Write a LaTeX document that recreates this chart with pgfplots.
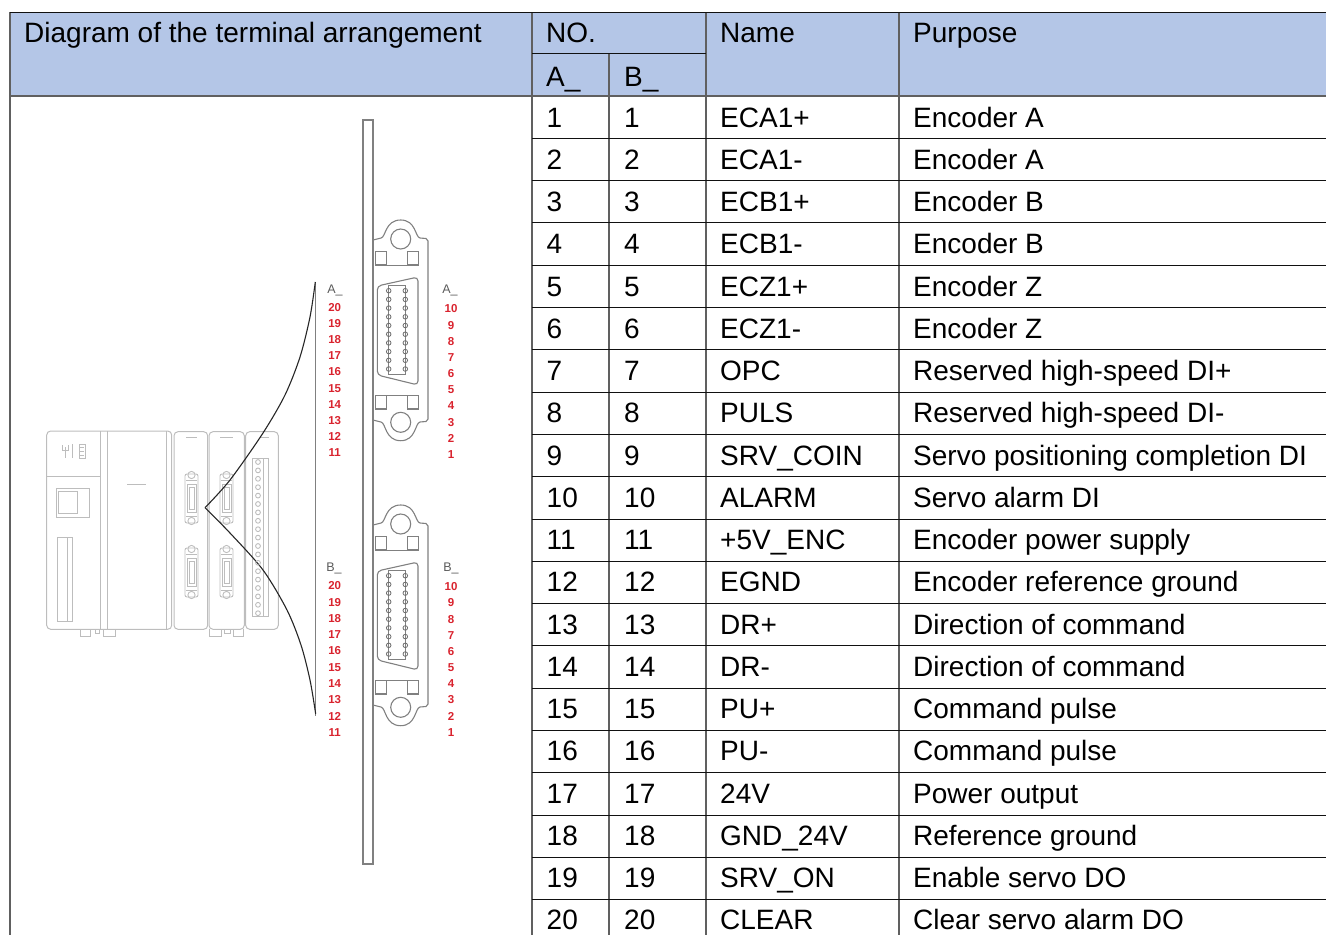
\documentclass[border=0pt]{standalone}
\usepackage{pgfplots}
\pgfplotsset{compat=1.18}
\usepackage{fontspec}
\setmainfont{Liberation Sans}
\definecolor{hdr}{HTML}{B4C6E7}
\definecolor{ln}{HTML}{111111}
\definecolor{vl}{HTML}{606060}
\definecolor{dev}{HTML}{BDBDBD}
\definecolor{conn}{HTML}{808080}
\definecolor{pinred}{HTML}{D9232E}
\newcommand{\tx}[3]{\node[anchor=base west,inner sep=0pt,text=black,font=\fontsize{28}{28}\selectfont] at (axis cs:#1,#2) {#3};}
\newcommand{\row}[4]{\tx{546.5}{#1}{#2}\tx{624}{#1}{#2}\tx{720}{#1}{#3}\tx{913}{#1}{#4}}
\newcommand{\rl}[1]{\draw[ln,line width=1pt] (axis cs:532,#1) -- (axis cs:1326,#1);}
\newcommand{\pinlab}[3]{\node[anchor=center,inner sep=0pt,text=pinred,font=\fontsize{11.5}{12}\selectfont\bfseries] at (axis cs:#1,#2) {#3};}
\newcommand{\glab}[3]{\node[anchor=center,inner sep=0pt,text=conn!70!black,font=\fontsize{12.5}{13}\selectfont] at (axis cs:#1,#2) {#3};}
\newcommand{\connector}[1]{%
\begin{scope}[yshift=-#1pt,conn,line width=1.1pt]
\draw (axis cs:373,240) -- (axis cs:381,238) .. controls (axis cs:386,237) and (axis cs:385,220) .. (axis cs:400.7,220) .. controls (axis cs:416,220) and (axis cs:415,237) .. (axis cs:420,238) -- (axis cs:426,238.5) -- (axis cs:428,241) -- (axis cs:428,419) -- (axis cs:426,421.5) -- (axis cs:420,422) .. controls (axis cs:415,423) and (axis cs:416,440.7) .. (axis cs:400.7,440.7) .. controls (axis cs:385,440.7) and (axis cs:386,423) .. (axis cs:381,422) -- (axis cs:373,420);
\draw (axis cs:400.7,239) circle[radius=10];
\draw (axis cs:400.7,422.3) circle[radius=10];
\draw (axis cs:375.7,251.7) rectangle (axis cs:386.7,265);
\draw (axis cs:407.3,251.7) rectangle (axis cs:418.3,265);
\draw (axis cs:375.7,395.7) rectangle (axis cs:386.7,409);
\draw (axis cs:407.3,395.7) rectangle (axis cs:418.3,409);
\draw (axis cs:386.7,265.5) -- (axis cs:407.3,265.5);
\draw (axis cs:386.7,395.5) -- (axis cs:407.3,395.5);
\draw[rounded corners=4pt] (axis cs:418,277) -- (axis cs:377.3,286) -- (axis cs:377.3,375) -- (axis cs:418,385) -- cycle;
\draw (axis cs:388.7,285.5) rectangle (axis cs:405.3,374.7);
\end{scope}}
\newcommand{\mini}[2]{%
\begin{scope}[dev,line width=.9pt]
\draw[rounded corners=2pt] (axis cs:#1,#2+5) rectangle (axis cs:#1+13,#2+54);
\draw (axis cs:#1+6.5,#2+6) circle[radius=3.6];
\draw (axis cs:#1+6.5,#2+52) circle[radius=3.6];
\draw (axis cs:#1+2,#2+15) rectangle (axis cs:#1+11,#2+43);
\draw (axis cs:#1+4,#2+18) rectangle (axis cs:#1+9,#2+40);
\draw (axis cs:#1+1,#2+11) -- (axis cs:#1+12,#2+11);
\draw (axis cs:#1+1,#2+47) -- (axis cs:#1+12,#2+47);
\end{scope}}
\begin{document}
\begin{tikzpicture}
\begin{axis}[
  scale only axis, width=1326pt, height=935pt,
  xmin=0, xmax=1326, ymin=0, ymax=935, y dir=reverse,
  hide axis, clip=true]
\path (axis cs:0,0) rectangle (axis cs:1326,935);
% header
\fill[hdr] (axis cs:10,12) rectangle (axis cs:1326,96);
% left device
\begin{scope}[dev,line width=1pt]
\draw[rounded corners=4pt] (axis cs:46.7,431) rectangle (axis cs:171.7,629.3);
\draw (axis cs:100.7,431) -- (axis cs:100.7,629.3);
\draw (axis cs:107.3,431) -- (axis cs:107.3,629.3);
\draw (axis cs:166,431) -- (axis cs:166,629.3);
\draw (axis cs:46.7,476) -- (axis cs:100.7,476);
\draw (axis cs:56.7,488.3) rectangle (axis cs:89,517.3);
\draw (axis cs:58.5,491.7) -- (axis cs:77,491.7) -- (axis cs:77,513.3) -- (axis cs:58.5,513.3) -- cycle;
\draw (axis cs:127.3,484.3) -- (axis cs:145.7,484.3);
\draw (axis cs:57.3,537.3) rectangle (axis cs:72,621.3);
\draw (axis cs:67.5,537.3) -- (axis cs:67.5,621.3);
\draw[rounded corners=4pt] (axis cs:174,431.7) rectangle (axis cs:207.7,629.3);
\draw[rounded corners=4pt] (axis cs:209,431.7) rectangle (axis cs:244.3,629.3);
\draw[rounded corners=4pt] (axis cs:245.7,431.7) rectangle (axis cs:278.3,629.3);
\draw[line width=1.4pt] (axis cs:186,437.3) -- (axis cs:197,437.3);
\draw[line width=1.4pt] (axis cs:220,437.3) -- (axis cs:233,437.3);
\draw[line width=1.4pt] (axis cs:260,437.3) -- (axis cs:269,437.3);
\draw (axis cs:252.7,458.3) rectangle (axis cs:268.3,616.7);
\draw (axis cs:263,458.3) -- (axis cs:263,616.7);
\draw (axis cs:80,629.3) -- (axis cs:80,636) -- (axis cs:90,636) -- (axis cs:90,629.3);
\draw (axis cs:103,629.3) -- (axis cs:103,636) -- (axis cs:115,636) -- (axis cs:115,629.3);
\draw (axis cs:209,629.3) -- (axis cs:209,636) -- (axis cs:221,636) -- (axis cs:221,629.3);
\draw (axis cs:233,629.3) -- (axis cs:233,636) -- (axis cs:243,636) -- (axis cs:243,629.3);
\draw (axis cs:95,629.3) -- (axis cs:95,633) -- (axis cs:99,633) -- (axis cs:99,629.3);
\draw (axis cs:224,629.3) -- (axis cs:224,633) -- (axis cs:230,633) -- (axis cs:230,629.3);
\draw (axis cs:79,444) rectangle (axis cs:85,458);
\draw (axis cs:80,447) -- (axis cs:84,447);
\draw (axis cs:80,451) -- (axis cs:84,451);
\draw (axis cs:80,455) -- (axis cs:84,455);
\draw (axis cs:72.7,444) -- (axis cs:72.7,458);
\draw (axis cs:65,447) -- (axis cs:65,458);
\draw (axis cs:62,445) -- (axis cs:62,450) -- (axis cs:68,450) -- (axis cs:68,445);
\end{scope}
\mini{185}{469}
\mini{185}{543}
\mini{220}{469}
\mini{220}{543}
\addplot[only marks,mark=o,mark size=2.4pt,mark options={draw=dev,line width=.9pt,fill=white}] coordinates {(258,462)(258,470.4)(258,478.8)(258,487.2)(258,495.6)(258,504)(258,512.4)(258,520.8)(258,529.2)(258,537.6)(258,546)(258,554.4)(258,562.8)(258,571.2)(258,579.6)(258,588)(258,596.4)(258,604.8)(258,613.2)};
% strip
\draw[conn,line width=1.2pt] (axis cs:363,120) rectangle (axis cs:373,864);
\connector{0}
\connector{285}
\addplot[only marks,mark=o,mark size=2.3pt,mark options={draw=conn!85!black,line width=.8pt,fill=white}] coordinates {
(388.7,290.7)(388.7,299.4)(388.7,308.1)(388.7,316.8)(388.7,325.5)(388.7,334.2)(388.7,342.9)(388.7,351.6)(388.7,360.3)(388.7,369)
(405.3,290.7)(405.3,299.4)(405.3,308.1)(405.3,316.8)(405.3,325.5)(405.3,334.2)(405.3,342.9)(405.3,351.6)(405.3,360.3)(405.3,369)
(388.7,575.7)(388.7,584.4)(388.7,593.1)(388.7,601.8)(388.7,610.5)(388.7,619.2)(388.7,627.9)(388.7,636.6)(388.7,645.3)(388.7,654)
(405.3,575.7)(405.3,584.4)(405.3,593.1)(405.3,601.8)(405.3,610.5)(405.3,619.2)(405.3,627.9)(405.3,636.6)(405.3,645.3)(405.3,654)};
% bracket
\draw[conn,line width=1.2pt] (axis cs:315.3,282) -- (axis cs:315.3,716);
\addplot[black!85,line width=1.1pt,smooth,no markers] coordinates {(205,507.7)(230,480)(263,433)(285,395)(300,357)(310,317)(315.3,282)};
\addplot[black!85,line width=1.1pt,smooth,no markers] coordinates {(205,507.7)(230,533)(263,570)(287,610)(301,645)(310,680)(315.7,714)};
% pin labels
\glab{335}{290}{A\_}\glab{450}{290}{A\_}
\glab{334}{568}{B\_}\glab{451}{568}{B\_}
\pinlab{334.7}{307.3}{20}\pinlab{334.7}{323.5}{19}\pinlab{334.7}{339.6}{18}\pinlab{334.7}{355.8}{17}\pinlab{334.7}{372}{16}\pinlab{334.7}{388.1}{15}\pinlab{334.7}{404.2}{14}\pinlab{334.7}{420.4}{13}\pinlab{334.7}{436.5}{12}\pinlab{334.7}{452.7}{11}
\pinlab{451}{309}{10}\pinlab{451}{325.2}{9}\pinlab{451}{341.3}{8}\pinlab{451}{357.5}{7}\pinlab{451}{373.7}{6}\pinlab{451}{389.8}{5}\pinlab{451}{406}{4}\pinlab{451}{422.2}{3}\pinlab{451}{438.4}{2}\pinlab{451}{454.7}{1}
\pinlab{334.7}{586}{20}\pinlab{334.7}{602.3}{19}\pinlab{334.7}{618.5}{18}\pinlab{334.7}{634.8}{17}\pinlab{334.7}{651}{16}\pinlab{334.7}{667.3}{15}\pinlab{334.7}{683.5}{14}\pinlab{334.7}{699.8}{13}\pinlab{334.7}{716}{12}\pinlab{334.7}{732.3}{11}
\pinlab{451}{586.7}{10}\pinlab{451}{602.9}{9}\pinlab{451}{619.1}{8}\pinlab{451}{635.3}{7}\pinlab{451}{651.5}{6}\pinlab{451}{667.7}{5}\pinlab{451}{683.9}{4}\pinlab{451}{700}{3}\pinlab{451}{716.2}{2}\pinlab{451}{732.3}{1}
% table rules
\draw[vl,line width=1.1pt] (axis cs:10,12) -- (axis cs:10,935);
\draw[vl,line width=1.1pt] (axis cs:532,12) -- (axis cs:532,935);
\draw[vl,line width=1.1pt] (axis cs:609,53.5) -- (axis cs:609,935);
\draw[vl,line width=1.1pt] (axis cs:706,12) -- (axis cs:706,935);
\draw[vl,line width=1.1pt] (axis cs:899,12) -- (axis cs:899,935);
\draw[ln,line width=1pt] (axis cs:10,12) -- (axis cs:1326,12);
\draw[vl,line width=1.1pt] (axis cs:10,96) -- (axis cs:1326,96);
\draw[ln,line width=1pt] (axis cs:532,53.5) -- (axis cs:706,53.5);
\rl{138.3}\rl{180.6}\rl{222.9}\rl{265.2}\rl{307.5}\rl{349.8}\rl{392.1}\rl{434.4}\rl{476.7}\rl{519}\rl{561.3}\rl{603.6}\rl{645.9}\rl{688.2}\rl{730.5}\rl{772.8}\rl{815.1}\rl{857.4}\rl{899.6}
% header text
\tx{24}{42}{Diagram of the terminal arrangement}
\tx{546}{42}{NO.}
\tx{720}{42}{Name}
\tx{913}{42}{Purpose}
\tx{546}{86}{A\_}
\tx{624}{86}{B\_}
% rows
\row{127}{1}{ECA1+}{Encoder A}
\row{169.3}{2}{ECA1-}{Encoder A}
\row{211.5}{3}{ECB1+}{Encoder B}
\row{253.8}{4}{ECB1-}{Encoder B}
\row{296}{5}{ECZ1+}{Encoder Z}
\row{338.3}{6}{ECZ1-}{Encoder Z}
\row{380.6}{7}{OPC}{Reserved high-speed DI+}
\row{422.8}{8}{PULS}{Reserved high-speed DI-}
\row{465.1}{9}{SRV\_COIN}{Servo positioning completion DI}
\row{507.3}{10}{ALARM}{Servo alarm DI}
\row{549.6}{11}{+5V\_ENC}{Encoder power supply}
\row{591.9}{12}{EGND}{Encoder reference ground}
\row{634.1}{13}{DR+}{Direction of command}
\row{676.4}{14}{DR-}{Direction of command}
\row{718.6}{15}{PU+}{Command pulse}
\row{760.9}{16}{PU-}{Command pulse}
\row{803.2}{17}{24V}{Power output}
\row{845.4}{18}{GND\_24V}{Reference ground}
\row{887.7}{19}{SRV\_ON}{Enable servo DO}
\row{929.6}{20}{CLEAR}{Clear servo alarm DO}
\end{axis}
\end{tikzpicture}
\end{document}
